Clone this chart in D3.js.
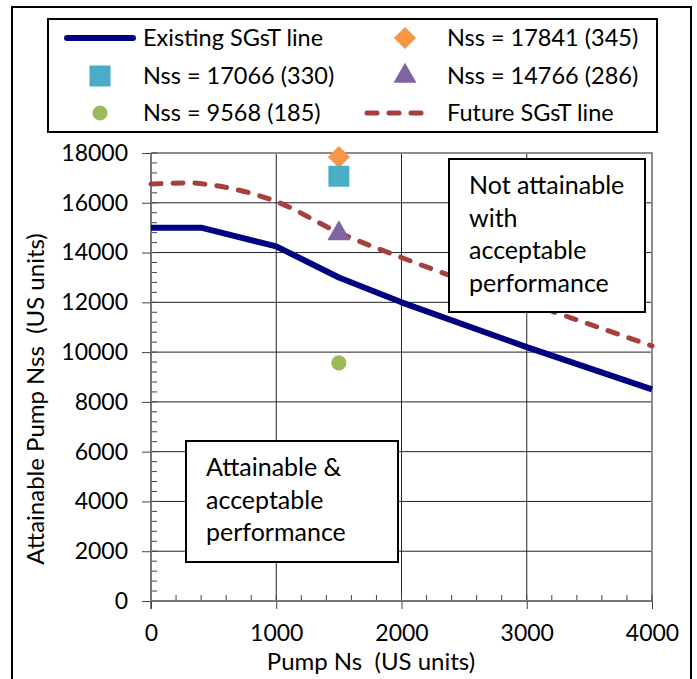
<!DOCTYPE html>
<html>
<head>
<meta charset="utf-8">
<script src="https://cdn.jsdelivr.net/npm/d3@7"></script>
<style>
  body { margin: 0; background: #fff; }
  svg text { font-family: Lato, "Open Sans", sans-serif; fill: #000; }
</style>
</head>
<body>
<div id="chart"></div>
<script>
const existingNs = [0, 400, 1000, 1500, 2000, 3000, 4000],
existingNss = [15000, 15000, 14250, 13000, 12000, 10200, 8500],
futureNs = [0, 300, 500, 1000, 1500, 2000, 3000, 4000],
futureNss = [16750, 16800, 16700, 16050, 14800, 13800, 12000, 10250],
pointLabels = ['Nss = 17841 (345)', 'Nss = 17066 (330)', 'Nss = 14766 (286)', 'Nss = 9568 (185)'],
pointNs = [1500, 1500, 1500, 1500],
pointNss = [17841, 17066, 14766, 9568],
xTicks = [0, 1000, 2000, 3000, 4000],
yTicks = [0, 2000, 4000, 6000, 8000, 10000, 12000, 14000, 16000, 18000],
lineLabels = ['Existing SGsT line', 'Future SGsT line'];

const width = 697,
height = 679,
plotLeft = 151,
plotRight = 652,
plotTop = 153,
plotBottom = 601,
navy = '#000080',
brick = '#A5403C',
dashes = '10,12',
pointColors = ['#F79646', '#4BACC6', '#8064A2', '#9BBB59'],
pointSymbols = [d3.symbolSquare, d3.symbolSquare, d3.symbolTriangle, d3.symbolCircle],
pointRotate = [45, 0, 0, 0],
pointSizes = [245, 440, 230, 180];

const x = d3.scaleLinear().domain([0, 4000]).range([plotLeft, plotRight]),
y = d3.scaleLinear().domain([0, 18000]).range([plotBottom, plotTop]);

const svg = d3.select('#chart')
   .append('svg')
   .attr('width', width)
   .attr('height', height);

// outer frame
svg.append('rect')
   .attr('x', 12).attr('y', 7)
   .attr('width', 679).attr('height', 690)
   .attr('fill', 'none')
   .attr('stroke', '#000')
   .attr('stroke-width', 2);

// grid
svg.append('g')
   .selectAll('line')
   .data(yTicks.slice(1, -1))
   .join('line')
   .attr('x1', plotLeft).attr('x2', plotRight)
   .attr('y1', d => y(d)).attr('y2', d => y(d))
   .attr('stroke', '#222').attr('stroke-width', 1);

svg.append('g')
   .selectAll('line')
   .data(xTicks.slice(1, -1))
   .join('line')
   .attr('x1', d => x(d)).attr('x2', d => x(d))
   .attr('y1', plotTop).attr('y2', plotBottom)
   .attr('stroke', '#222').attr('stroke-width', 1);

// plot border top/right
svg.append('path')
   .attr('d', `M${plotLeft},${plotTop}H${plotRight}V${plotBottom}`)
   .attr('fill', 'none')
   .attr('stroke', '#8c8c8c')
   .attr('stroke-width', 2);

// minor ticks (inside)
svg.append('g')
   .selectAll('line')
   .data(d3.range(0, 18001, 400))
   .join('line')
   .attr('x1', plotLeft).attr('x2', plotLeft + 6)
   .attr('y1', d => y(d)).attr('y2', d => y(d))
   .attr('stroke', '#444');

svg.append('g')
   .selectAll('line')
   .data(d3.range(0, 4001, 200))
   .join('line')
   .attr('x1', d => x(d)).attr('x2', d => x(d))
   .attr('y1', plotBottom).attr('y2', plotBottom - 6)
   .attr('stroke', '#444');

// axes
const yAxis = svg.append('g')
   .attr('transform', `translate(${plotLeft},0)`)
   .call(d3.axisLeft(y).tickValues(yTicks).tickSize(9).tickPadding(14).tickFormat(d3.format('d')));

const xAxis = svg.append('g')
   .attr('transform', `translate(0,${plotBottom})`)
   .call(d3.axisBottom(x).tickValues(xTicks).tickSize(8).tickPadding(16).tickFormat(d3.format('d')));

[yAxis, xAxis].forEach(a => {
   a.select('.domain').attr('stroke', '#777').attr('stroke-width', 2);
   a.selectAll('.tick line').attr('stroke', '#444');
   a.selectAll('.tick text').attr('font-size', 23).attr('font-family', 'Lato, sans-serif');
});
yAxis.select('.domain').attr('d', `M0,${plotTop}V${plotBottom + 8}`);
xAxis.select('.domain').attr('d', `M${plotLeft - 1},0H${plotRight}`);

// lines
svg.append('path')
   .datum(d3.zip(futureNs, futureNss))
   .attr('d', d3.line().x(d => x(d[0])).y(d => y(d[1])).curve(d3.curveMonotoneX))
   .attr('fill', 'none')
   .attr('stroke', brick)
   .attr('stroke-width', 5)
   .attr('stroke-dasharray', dashes)
   .attr('stroke-linecap', 'round');

svg.append('path')
   .datum(d3.zip(existingNs, existingNss))
   .attr('d', d3.line().x(d => x(d[0])).y(d => y(d[1])))
   .attr('fill', 'none')
   .attr('stroke', navy)
   .attr('stroke-width', 6)
   .attr('stroke-linejoin', 'round');

// points
svg.append('g')
   .selectAll('path')
   .data(pointNss)
   .join('path')
   .attr('transform', (d, i) => `translate(${x(pointNs[i])},${y(d)}) rotate(${pointRotate[i]})`)
   .attr('d', (d, i) => d3.symbol(pointSymbols[i], pointSizes[i])())
   .attr('fill', (d, i) => pointColors[i]);

// annotation boxes
const boxes = [
   { x: 449, y: 159, w: 196, h: 153, lines: ['Not attainable', 'with', 'acceptable', 'performance'] },
   { x: 186, y: 441, w: 212, h: 121, lines: ['Attainable &', 'acceptable', 'performance'] }
];

boxes.forEach(b => {
   const g = svg.append('g');
   g.append('rect')
      .attr('x', b.x).attr('y', b.y)
      .attr('width', b.w).attr('height', b.h)
      .attr('fill', '#fff')
      .attr('stroke', '#000')
      .attr('stroke-width', 2);
   g.selectAll('text')
      .data(b.lines)
      .join('text')
      .attr('x', b.x + 20)
      .attr('y', (d, i) => b.y + 35 + i * 32.5)
      .attr('font-size', 25)
      .text(d => d);
});

// axis titles
svg.append('text')
   .attr('x', 371).attr('y', 670)
   .attr('text-anchor', 'middle')
   .attr('font-size', 24)
   .attr('xml:space', 'preserve')
   .text('Pump Ns  (US units)');

svg.append('text')
   .attr('transform', 'translate(44,399) rotate(-90)')
   .attr('text-anchor', 'middle')
   .attr('font-size', 24)
   .attr('xml:space', 'preserve')
   .text('Attainable Pump Nss  (US units)');

// legend
svg.append('rect')
   .attr('x', 48).attr('y', 19)
   .attr('width', 609).attr('height', 113)
   .attr('fill', '#fff')
   .attr('stroke', '#000')
   .attr('stroke-width', 2);

const legendRowY = [38, 76, 113],
legendColX = [143, 447],
legendMarkX = [100, 400];

const legendItems = [
   { type: 'line', label: lineLabels[0], col: 0, row: 0 },
   { type: 'point', idx: 0, col: 1, row: 0 },
   { type: 'point', idx: 1, col: 0, row: 1 },
   { type: 'point', idx: 2, col: 1, row: 1 },
   { type: 'point', idx: 3, col: 0, row: 2 },
   { type: 'dash', label: lineLabels[1], col: 1, row: 2 }
];

const legend = svg.append('g');

legendItems.forEach(item => {
   const cy = legendRowY[item.row],
   cx = legendMarkX[item.col];
   if (item.type === 'point') {
      legend.append('path')
         .attr('transform', `translate(${cx + (item.col ? 5 : 0)},${cy}) rotate(${pointRotate[item.idx]})`)
         .attr('d', d3.symbol(pointSymbols[item.idx], pointSizes[item.idx])())
         .attr('fill', pointColors[item.idx]);
   } else {
      legend.append('line')
         .attr('x1', cx - 33).attr('x2', cx + 33)
         .attr('y1', cy).attr('y2', cy)
         .attr('stroke', item.type === 'line' ? navy : brick)
         .attr('stroke-width', item.type === 'line' ? 6 : 5)
         .attr('stroke-linecap', 'round')
         .attr('stroke-dasharray', item.type === 'line' ? null : dashes);
   }
   legend.append('text')
      .attr('x', legendColX[item.col])
      .attr('y', cy)
      .attr('dy', '0.35em')
      .attr('font-size', 23.5)
      .text(item.type === 'point' ? pointLabels[item.idx] : item.label);
});
</script>
</body>
</html>
